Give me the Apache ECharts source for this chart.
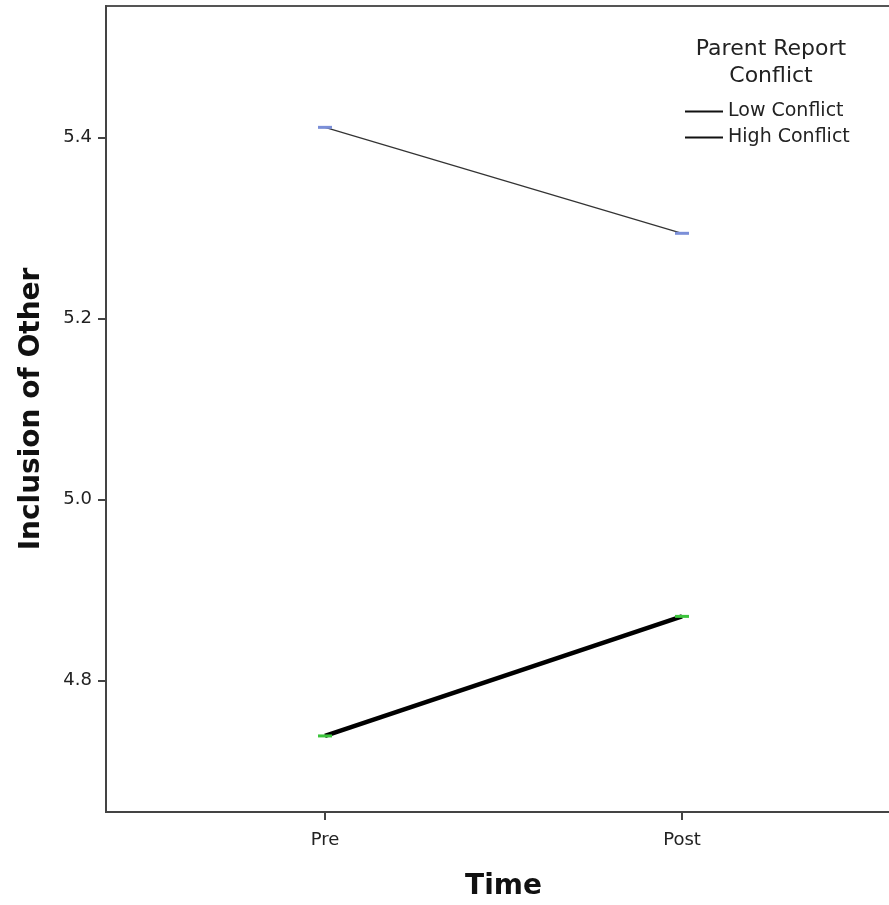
<!DOCTYPE html>
<html>
<head>
<meta charset="utf-8">
<script src="https://cdn.jsdelivr.net/npm/echarts@6/dist/echarts.min.js"></script>
<style>
    html, body { margin: 0; padding: 0; background: #fff; }
    #chart { width: 889px; height: 905px; }
</style>
</head>
<body>
<div id="chart"></div>
<script>
// data
var timePoints = ['Pre', 'Post'];
var lowConflict = [5.411, 5.294];
var highConflict = [4.739, 4.871];
var yTicks = [4.8, 5.0, 5.2, 5.4];

var font = 'DejaVu Sans';

function pairs(vals) {
    return vals.map(function (v, i) { return [i + 1, v]; });
}

var chart = echarts.init(document.getElementById('chart'));
var option = {
    animation: false,
    backgroundColor: '#fff',
    textStyle: { fontFamily: font },
    grid: {
        left: 106, top: 6, bottom: 93, right: -12,
        outerBoundsMode: 'none',
        show: true, borderColor: '#555', borderWidth: 2
    },
    title: {
        text: 'Parent Report\nConflict',
        left: 766, top: 31, textAlign: 'center',
        textStyle: { fontFamily: font, fontSize: 22, fontWeight: 'normal', color: '#222', lineHeight: 27 }
    },
    legend: {
        orient: 'vertical',
        left: 680, top: 97,
        itemGap: 7,
        itemWidth: 38, itemHeight: 2,
        icon: 'rect',
        textStyle: { fontFamily: font, fontSize: 19, color: '#222' },
        data: [
            { name: 'Low Conflict', itemStyle: { color: '#111' } },
            { name: 'High Conflict', itemStyle: { color: '#111' } }
        ]
    },
    xAxis: {
        type: 'value',
        min: 0.3866, max: 2.6134,
        name: 'Time', nameLocation: 'middle', nameGap: 61,
        nameTextStyle: { fontFamily: font, fontSize: 28, fontWeight: 'bold', color: '#111' },
        axisLine: { lineStyle: { color: '#444', width: 2 } },
        axisTick: { customValues: [1, 2], length: 8, lineStyle: { color: '#444', width: 2 } },
        axisLabel: {
            customValues: [1, 2], margin: 19,
            fontFamily: font, fontSize: 18, color: '#222',
            formatter: function (v) { return timePoints[Math.round(v) - 1] || ''; }
        },
        splitLine: { show: false }
    },
    yAxis: {
        type: 'value',
        min: 4.655, max: 5.545,
        name: 'Inclusion of Other', nameLocation: 'middle', nameGap: 60,
        nameTextStyle: { fontFamily: font, fontSize: 28, fontWeight: 'bold', color: '#111' },
        axisLine: { show: true, lineStyle: { color: '#444', width: 2 } },
        axisTick: { show: true, customValues: yTicks, length: 8, lineStyle: { color: '#444', width: 2 } },
        axisLabel: {
            customValues: yTicks, margin: 14,
            fontFamily: font, fontSize: 18, color: '#222',
            formatter: function (v) { return v.toFixed(1); }
        },
        splitLine: { show: false }
    },
    series: [
        {
            name: 'Low Conflict', type: 'line',
            data: pairs(lowConflict),
            symbol: 'rect', symbolSize: [14, 3],
            itemStyle: { color: '#7b8fd8' },
            lineStyle: { color: '#333', width: 1.2 }
        },
        {
            name: 'High Conflict', type: 'line',
            data: pairs(highConflict),
            symbol: 'rect', symbolSize: [14, 3],
            itemStyle: { color: '#3cc43c' },
            lineStyle: { color: '#000', width: 4.5 }
        }
    ]
};
chart.setOption(option);
</script>
</body>
</html>
